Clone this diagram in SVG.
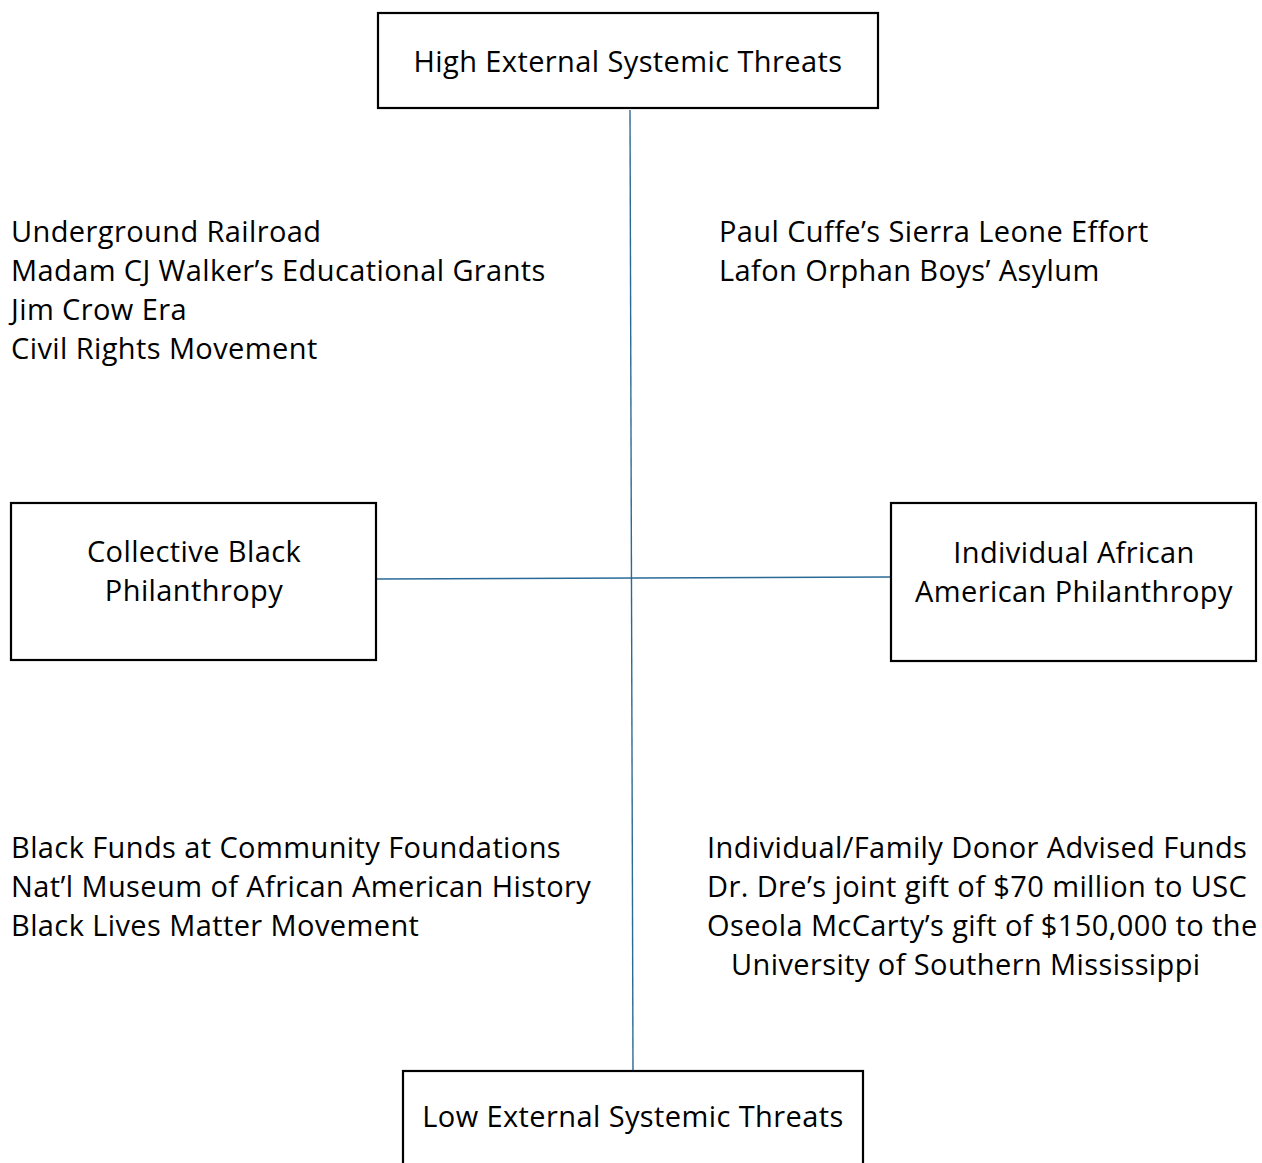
<svg xmlns="http://www.w3.org/2000/svg" width="1262" height="1163" viewBox="0 0 1262 1163">
<style>
.box{fill:#fff;stroke:#000;stroke-width:2.2}
.t{font-family:"Open Sans","Liberation Sans",Arial,sans-serif;font-size:29px;letter-spacing:0.4px;fill:#000}
.c{text-anchor:middle}
.ln{stroke:#2b6a97;stroke-width:1.4;fill:none}
</style>
<rect width="1262" height="1163" fill="#fff"/>
<g id="connectors">
<line class="ln" x1="630" y1="110" x2="633" y2="1070"/>
<line class="ln" x1="377" y1="579" x2="890" y2="577"/>
</g>
<g id="high">
<rect class="box" x="378" y="13" width="500" height="95"/>
<text class="t c" x="628" y="72">High External Systemic Threats</text>
</g>
<g id="collective">
<rect class="box" x="11" y="503" width="365" height="157"/>
<text class="t c" x="194" y="562">Collective Black</text>
<text class="t c" x="194" y="601">Philanthropy</text>
</g>
<g id="individual">
<rect class="box" x="891" y="503" width="365" height="158"/>
<text class="t c" x="1074" y="563">Individual African</text>
<text class="t c" x="1074" y="602">American Philanthropy</text>
</g>
<g id="low">
<rect class="box" x="403" y="1071" width="460" height="110"/>
<text class="t c" x="633" y="1127">Low External Systemic Threats</text>
</g>
<g id="q-top-left">
<text class="t" x="11" y="242">Underground Railroad</text>
<text class="t" x="11" y="281">Madam CJ Walker’s Educational Grants</text>
<text class="t" x="11" y="320">Jim Crow Era</text>
<text class="t" x="11" y="359">Civil Rights Movement</text>
</g>
<g id="q-top-right">
<text class="t" x="719" y="242">Paul Cuffe’s Sierra Leone Effort</text>
<text class="t" x="719" y="281">Lafon Orphan Boys’ Asylum</text>
</g>
<g id="q-bottom-left">
<text class="t" x="11" y="858">Black Funds at Community Foundations</text>
<text class="t" x="11" y="897">Nat’l Museum of African American History</text>
<text class="t" x="11" y="936">Black Lives Matter Movement</text>
</g>
<g id="q-bottom-right">
<text class="t" x="707" y="858">Individual/Family Donor Advised Funds</text>
<text class="t" x="707" y="897">Dr. Dre’s joint gift of $70 million to USC</text>
<text class="t" x="707" y="936">Oseola McCarty’s gift of $150,000 to the</text>
<text class="t" x="731" y="975">University of Southern Mississippi</text>
</g>
</svg>
